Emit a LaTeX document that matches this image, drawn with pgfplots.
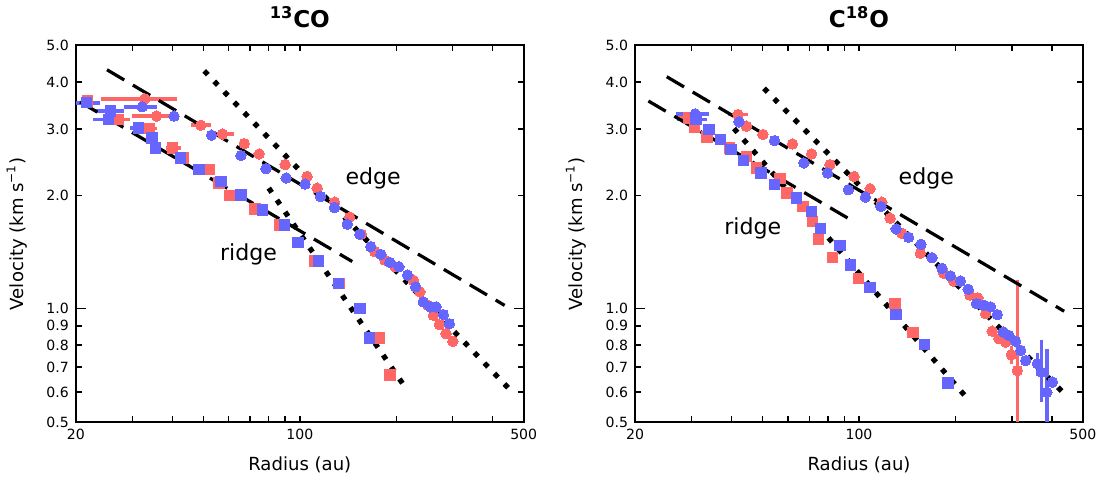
\documentclass[border=0pt]{standalone}
\usepackage{pgfplots}
\pgfplotsset{compat=1.18}
\usepackage{fontspec}
\setmainfont{DejaVu Sans}
\definecolor{cred}{RGB}{255,102,102}
\definecolor{cblue}{RGB}{102,102,255}
\pgfplotsset{
  myser/.style={only marks, mark size=2.6pt, mark options={draw=#1, fill=#1, line width=0pt}, color=#1,
    error bars/x dir=both, error bars/x explicit, error bars/y dir=both, error bars/y explicit,
    error bars/error bar style={line width=1.8pt, color=#1}, error bars/error mark=none},
  mydash/.style={black, line width=1.6pt, dash pattern=on 10pt off 5pt, no markers},
  mydot/.style={black, line width=2.6pt, dash pattern=on 2.6pt off 4.6pt, no markers},
}
\begin{document}
\begin{tikzpicture}
% ---------------- 13CO ----------------
\begin{axis}[
    width=223pt, height=187.5pt, scale only axis,
    xmode=log, ymode=log, xmin=20, xmax=500, ymin=0.5, ymax=5,
    xtick={20,100,500}, xticklabels={20,100,500},
    minor xtick={30,40,50,60,70,80,90,200,300,400},
    ytick={0.5,0.6,0.7,0.8,0.9,1,2,3,4,5},
    yticklabels={0.5,0.6,0.7,0.8,0.9,1.0,2.0,3.0,4.0,5.0},
    major tick length=3pt, minor tick length=3pt,
    tick align=inside, xtick pos=both, ytick pos=both,
    tick style={black, line width=0.7pt},
    axis line style={line width=1pt},
    tick label style={font=\fontsize{7}{8}\selectfont},
    label style={font=\fontsize{9}{10}\selectfont},
    xlabel={Radius (au)}, ylabel={Velocity (km s\textsuperscript{−1})},
    xlabel style={at={(axis description cs:0.5,-0.115)}, anchor=center},
    ylabel style={at={(axis description cs:-0.132,0.5)}, anchor=center},
    title style={at={(axis description cs:0.5,1.043)}, anchor=center, font=\bfseries\fontsize{11.5}{13}\selectfont},
    title={\textsuperscript{13}CO}]
% red squares (ridge)
\addplot[mark=square*, myser=cred] coordinates {
(21.7,3.56) (27.2,3.18) += (2.3,0) -= (2.2,0) (33.8,3.009) += (1.9,0) -= (2.2,0)
(40.0,2.672) += (2.5,0) -= (1.7,0) (43.3,2.513) (52.1,2.339) (56.0,2.156) (60.5,1.998)
(72.4,1.837) (86.4,1.669) (98.6,1.50) (111.2,1.338) (133.2,1.166) (155.0,1.00)
(176.5,0.835) (191.0,0.667)};
% red circles (edge)
\addplot[mark=*, myser=cred] coordinates {
(32.8,3.61) += (8.7,0) -= (8.8,0) (35.7,3.245) += (5.8,0) -= (5.7,0)
(49.1,3.07) += (3.6,0) -= (3.5,0) (57.4,2.91) += (4.7,0) -= (3.4,0)
(67.1,2.744) (74.7,2.576) (90.0,2.412) (105.4,2.245) (113.3,2.09) (128.4,1.918)
(143.1,1.75) (155.7,1.576) (171.4,1.417) (184.3,1.346) (198.1,1.292) (226.1,1.19)
(237.2,1.108) (250.7,1.021) (261.2,0.960) (272.8,0.907) (286.2,0.858) (300.4,0.819)};
% blue squares (ridge)
\addplot[mark=square*, myser=cblue] coordinates {
(21.6,3.523) += (2.2,0) -= (1.6,0) (25.6,3.35) += (2.6,0) -= (2.6,0)
(25.3,3.18) += (2.2,0) -= (2.7,0) (31.4,3.02) += (2.4,0) -= (1.9,0)
(34.6,2.841) += (1.2,0) -= (1.2,0) (35.5,2.672) (42.5,2.513) (48.5,2.339) (56.7,2.178)
(65.5,2.006) (76.6,1.83) (89.5,1.669) (98.6,1.50) (114.4,1.338) (132.2,1.166)
(154.3,1.00) (165.3,0.835)};
% blue circles (edge)
\addplot[mark=*, myser=cblue] coordinates {
(32.2,3.437) += (3.7,0) -= (4.0,0) (40.5,3.245) (53.0,2.888) (65.5,2.55) (78.4,2.354)
(90.6,2.223) (103.9,2.142) (116.1,1.986) (128.4,1.856) (140.7,1.676) (153.9,1.576)
(166.5,1.461) (179.0,1.394) (191.0,1.327) (203.9,1.292) (217.0,1.228) (229.9,1.143)
(243.0,1.042) (255.0,1.011) (266.3,1.011) (280.7,0.964) (293.1,0.912)};
% fits
\addplot[mydash] coordinates {(25.0,4.31) (436,1.02)};
\addplot[mydash] coordinates {(20.6,3.54) (145.8,1.334)};
\addplot[mydot] coordinates {(50.3,4.28) (448,0.615)};
\addplot[mydot] coordinates {(80.0,2.09) (214.5,0.614)};
\node[font=\fontsize{11}{12}\selectfont] at (axis cs:169.4,2.22) {edge};
\node[font=\fontsize{11}{12}\selectfont] at (axis cs:69.2,1.39) {ridge};
\draw[line width=0.7pt] (axis cs:20,1) -- ++(5pt,0pt);
\draw[line width=0.7pt] (axis cs:500,1) -- ++(-5pt,0pt);
\end{axis}
% ---------------- C18O ----------------
\begin{axis}[at={(278.5pt,0pt)},
    width=223pt, height=187.5pt, scale only axis,
    xmode=log, ymode=log, xmin=20, xmax=500, ymin=0.5, ymax=5,
    xtick={20,100,500}, xticklabels={20,100,500},
    minor xtick={30,40,50,60,70,80,90,200,300,400},
    ytick={0.5,0.6,0.7,0.8,0.9,1,2,3,4,5},
    yticklabels={0.5,0.6,0.7,0.8,0.9,1.0,2.0,3.0,4.0,5.0},
    major tick length=3pt, minor tick length=3pt,
    tick align=inside, xtick pos=both, ytick pos=both,
    tick style={black, line width=0.7pt},
    axis line style={line width=1pt},
    tick label style={font=\fontsize{7}{8}\selectfont},
    label style={font=\fontsize{9}{10}\selectfont},
    xlabel={Radius (au)}, ylabel={Velocity (km s\textsuperscript{−1})},
    xlabel style={at={(axis description cs:0.5,-0.115)}, anchor=center},
    ylabel style={at={(axis description cs:-0.132,0.5)}, anchor=center},
    title style={at={(axis description cs:0.5,1.043)}, anchor=center, font=\bfseries\fontsize{11.5}{13}\selectfont},
    title={C\textsuperscript{18}O}]
% red squares (ridge)
\addplot[mark=square*, myser=cred] coordinates {
(29.5,3.213) += (2.5,0) -= (2.4,0) (30.6,3.034) (33.5,2.853) (39.4,2.672) (44.5,2.539)
(47.8,2.363) (56.6,2.213) (59.6,2.027) (66.9,1.868) (71.6,1.703) (74.8,1.531)
(82.5,1.365) (99.5,1.203) (129.7,1.031) (147.4,0.863)};
% red circles (edge)
\addplot[mark=*, myser=cred] coordinates {
(41.9,3.279) += (3,0) -= (3,0) (44.5,3.052) (50.1,2.90) (62.0,2.738) (71.1,2.576)
(81.1,2.412) (96.5,2.245) (108.3,2.082) (117.8,1.918) (125.1,1.739) (136.1,1.585)
(155.4,1.403) (183.9,1.240) (197.6,1.183) (221.9,1.086) (235.0,1.068) (248.4,0.970)
(260.5,0.871) (273.5,0.832) (286.9,0.815) (298.9,0.754) += (0,0.04) -= (0,0.04)
(312.2,0.685) += (0,0.505) -= (0,0.4)};
% blue squares (ridge)
\addplot[mark=square*, myser=cblue] coordinates {
(31.0,3.18) += (2.5,0) -= (3.9,0) (34.0,2.991) (36.9,2.813) (39.9,2.645) (43.6,2.472)
(49.5,2.292) (54.5,2.134) (63.8,1.965) (71.1,1.811) (75.8,1.635) (87.2,1.470)
(94.2,1.305) (108.3,1.136) (130.6,0.964) (160.3,0.802) (189.7,0.635)};
% blue circles (edge)
\addplot[mark=*, myser=cblue] coordinates {
(30.8,3.293) += (3.3,0) -= (4.0,0) (42.2,3.135) (54.5,2.795) (67.3,2.437) (79.8,2.292)
(92.6,2.069) (104.7,1.978) (117.0,1.868) (130.6,1.628) (142.8,1.547) (156.1,1.482)
(169.0,1.365) (181.6,1.279) (192.9,1.222) (207.4,1.183) (219.2,1.126) (232.7,1.031)
(245.4,1.021) (257.5,1.011) (270.2,0.964) (282.1,0.867) (293.8,0.849) (308.4,0.819)
(319.7,0.775) (331.5,0.728) (360.7,0.714) += (0,0.05) -= (0,0.05)
(371.2,0.678) += (0,0.146) -= (0,0.114) (385.7,0.600) += (0,0.18) -= (0,0.2)
(401.8,0.638)};
% fits
\addplot[mydash] coordinates {(25.1,4.13) (437,0.984)};
\addplot[mydash] coordinates {(22.0,3.56) (97.5,1.692)};
\addplot[mydot] coordinates {(50.5,3.847) (435,0.597)};
\addplot[mydot] coordinates {(40.7,3.009) (216,0.582)};
\node[font=\fontsize{11}{12}\selectfont] at (axis cs:162.2,2.22) {edge};
\node[font=\fontsize{11}{12}\selectfont] at (axis cs:46.6,1.636) {ridge};
\draw[line width=0.7pt] (axis cs:20,1) -- ++(5pt,0pt);
\draw[line width=0.7pt] (axis cs:500,1) -- ++(-5pt,0pt);
\end{axis}
\end{tikzpicture}
\end{document}
